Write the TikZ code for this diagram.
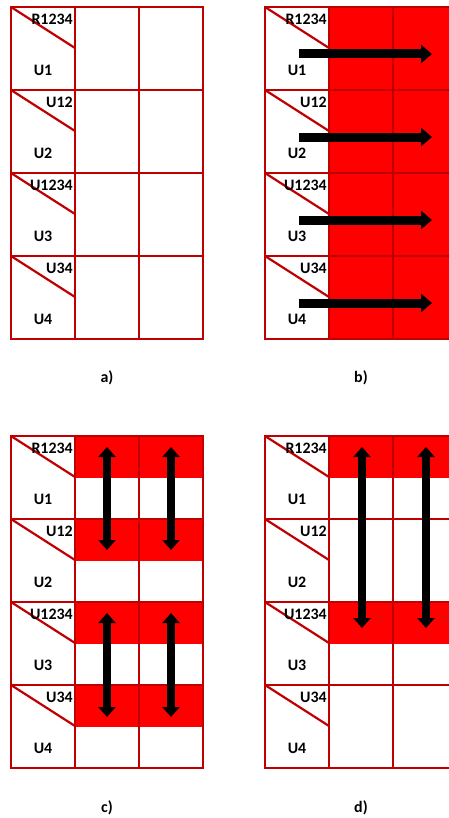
\documentclass[tikz,border=0pt]{standalone}
\usepackage{fontspec}
\setmainfont{Carlito}
\usetikzlibrary{arrows.meta}

\definecolor{gridred}{HTML}{C00000}
\definecolor{cellred}{HTML}{FF0000}

\tikzset{
  gridline/.style={gridred, line width=2.2bp},
  cellfill/.style={fill=cellred},
  celltext/.style={font=\fontsize{16}{19}\selectfont\bfseries, inner sep=0pt},
  rightarrow/.style={line width=9bp, -{Triangle[width=18bp,length=11bp]}},
  botharrow/.style={line width=8bp, {Triangle[width=17bp,length=10bp]}-{Triangle[width=17bp,length=10bp]}}
}

% one 4x3 table, drawn from its top left corner
\newcommand{\drawgrid}[1]{%
  \draw[gridline] (0,0) rectangle (192,332);
  \foreach \cx in {64,128} \draw[gridline] (\cx,0) -- (\cx,332);
  \foreach \top/\rlab/\ulab [count=\r] in {0/R1234/U1, 83/U12/U2, 166/U1234/U3, 249/U34/U4} {
    \draw[gridline] (0,\top) -- (192,\top);
    \draw[gridline] (0,\top) -- (64,\top+41);
    \node[celltext, anchor=east] (#1r\r) at (62,\top+12) {\rlab};
    \node[celltext] (#1u\r) at (32,\top+63) {\ulab};
  }
}

\begin{document}
\begin{tikzpicture}[x=1bp, y=-1bp]
    \clip (0,0) rectangle (449,818);
    \fill[white] (0,0) rectangle (449,818);

    % a) empty table
    \begin{scope}[shift={(11,7)}]
        \drawgrid{a}
    \end{scope}

    % b) whole rows in red, arrows to the right
    \begin{scope}[shift={(265,7)}]
        \fill[cellfill] (64,0) rectangle (193,332);
        \drawgrid{b}
        \foreach \top [count=\r] in {0,83,166,249} {
            \coordinate (bs\r) at (34,\top+47);
            \coordinate (be\r) at (167,\top+47);
            \draw[rightarrow] (bs\r) -- (be\r);
        }
    \end{scope}

    % c) upper halves in red, short arrows
    \begin{scope}[shift={(11,436)}]
        \foreach \top in {0,83,166,249}
            \fill[cellfill] (64,\top) rectangle (192,\top+41.5);
        \drawgrid{c}
        \foreach \cx [count=\k] in {96,160} {
            \coordinate (ct\k) at (\cx,11);
            \coordinate (cb\k) at (\cx,114);
            \coordinate (ct\k') at (\cx,177);
            \coordinate (cb\k') at (\cx,281);
            \draw[botharrow] (ct\k) -- (cb\k);
            \draw[botharrow] (ct\k') -- (cb\k');
        }
    \end{scope}

    % d) rows 1 and 3 in red, long arrows
    \begin{scope}[shift={(265,436)}]
        \foreach \top in {0,166}
            \fill[cellfill] (64,\top) rectangle (193,\top+41.5);
        \drawgrid{d}
        \foreach \cx [count=\k] in {97,161} {
            \coordinate (dt\k) at (\cx,11);
            \coordinate (db\k) at (\cx,192);
            \draw[botharrow] (dt\k) -- (db\k);
        }
    \end{scope}

    % captions
    \node[celltext] (capa) at (107,378) {a)};
    \node[celltext] (capb) at (361,378) {b)};
    \node[celltext] (capc) at (107,808) {c)};
    \node[celltext] (capd) at (361,808) {d)};
\end{tikzpicture}
\end{document}
